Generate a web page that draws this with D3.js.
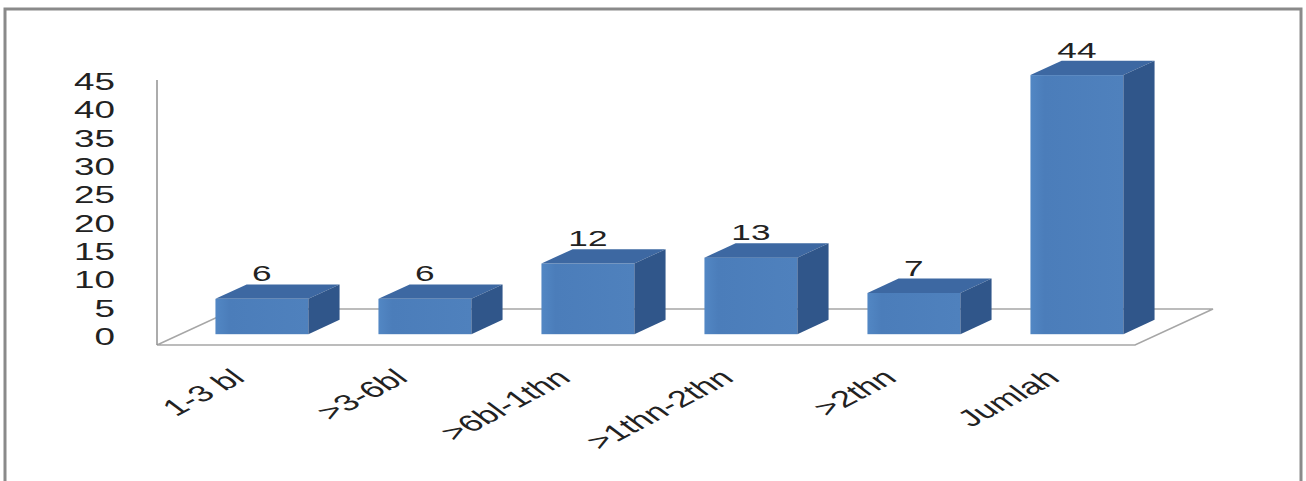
<!DOCTYPE html>
<html>
<head>
<meta charset="utf-8">
<script src="https://cdn.jsdelivr.net/npm/d3@7"></script>
<style>
  body { margin: 0; background: #fff; }
  text { font-family: "Liberation Sans", Arial, sans-serif; fill: #222; }
</style>
</head>
<body>
<svg id="chart" width="1306" height="481"></svg>
<script>
// data
var categories = ["1-3 bl", ">3-6bl", ">6bl-1thn", ">1thn-2thn", ">2thn", "Jumlah"];
var values = [6, 6, 12, 13, 7, 44];
var yTicks = [0, 5, 10, 15, 20, 25, 30, 35, 40, 45];

var svg = d3.select("#chart");
var sx = 1.6; // picture is stretched sideways

// frame
svg.append("rect")
    .attr("x", 5).attr("y", 9)
    .attr("width", 1296).attr("height", 490)
    .attr("fill", "#fff")
    .attr("stroke", "#8a8a8a")
    .attr("stroke-width", 3);

var left = 157, right = 1135, base = 345;
var depth = [78, -36]; // floor depth offset

var x = d3.scaleBand()
    .domain(categories)
    .range([left, right])
    .paddingInner(0.43)
    .paddingOuter(0.215);

var y = d3.scaleLinear()
    .domain([0, 45])
    .range([base, 80]);

// floor outline
var floor = [
  [left, base], [right, base],
  [right + depth[0], base + depth[1]], [left + depth[0], base + depth[1]]
];
svg.append("polygon")
    .attr("points", floor.map(function(p) { return p.join(","); }).join(" "))
    .attr("fill", "#fff")
    .attr("stroke", "#a6a6a6")
    .attr("stroke-width", 1.5);

// vertical axis line
svg.append("line")
    .attr("x1", left).attr("x2", left)
    .attr("y1", y(45)).attr("y2", y(0))
    .attr("stroke", "#909090")
    .attr("stroke-width", 1.5);

// axis labels
var yLab = d3.scaleLinear().domain([0, 45]).range([337, 82]);
var yAxis = svg.append("g")
    .attr("transform", "translate(115,0)")
    .call(d3.axisLeft(yLab).tickValues(yTicks).tickSize(0).tickPadding(0));
yAxis.select(".domain").remove();
yAxis.selectAll("text")
    .attr("x", 0)
    .attr("transform", "scale(" + sx + ",1)")
    .style("font-family", "'Liberation Sans', Arial, sans-serif")
    .style("font-size", "23px")
    .style("fill", "#222");

// bars
var f0 = 0.3, f1 = 0.7;
var fx = depth[0] * f0, fy = depth[1] * f0;
var dx = depth[0] * (f1 - f0), dy = depth[1] * (f1 - f0);

var bars = svg.selectAll(".bar")
    .data(values)
    .enter().append("g")
    .attr("class", "bar");

function xl(d, i) { return x(categories[i]) + fx; }
function xr(d, i) { return x(categories[i]) + fx + x.bandwidth(); }
function yt(d) { return y(d) + fy; }
function yb() { return y(0) + fy; }

var grad = svg.append("defs").append("linearGradient")
    .attr("id", "front").attr("x1", "0").attr("x2", "1");
grad.append("stop").attr("offset", "0").attr("stop-color", "#5287c4");
grad.append("stop").attr("offset", "0.15").attr("stop-color", "#4b7dba");
grad.append("stop").attr("offset", "1").attr("stop-color", "#4f81bd");

bars.append("rect")
    .attr("x", xl)
    .attr("y", yt)
    .attr("width", x.bandwidth())
    .attr("height", function(d) { return yb() - yt(d); })
    .attr("fill", "url(#front)");

bars.append("polygon")
    .attr("points", function(d, i) {
      var a = xl(d, i), b = xr(d, i), t = yt(d);
      return [[a, t], [b, t], [b + dx, t + dy], [a + dx, t + dy]].join(" ");
    })
    .attr("fill", "#3d68a2");

bars.append("polygon")
    .attr("points", function(d, i) {
      var b = xr(d, i), t = yt(d), bt = yb();
      return [[b, t], [b + dx, t + dy], [b + dx, bt + dy], [b, bt]].join(" ");
    })
    .attr("fill", "#30568a");

// value labels
bars.append("text")
    .attr("transform", function(d, i) {
      return "translate(" + ((xl(d, i) + xr(d, i)) / 2) + "," + (yt(d) + dy - 3) + ") scale(" + sx + ",1)";
    })
    .attr("text-anchor", "middle")
    .style("font-size", "22px")
    .text(function(d) { return d; });

// category labels
svg.selectAll(".cat")
    .data(categories)
    .enter().append("text")
    .attr("class", "cat")
    .attr("transform", function(d) {
      return "translate(" + (x(d) + x.bandwidth() / 2 + 8) + ",380) scale(" + sx + ",1) rotate(-40)";
    })
    .attr("text-anchor", "end")
    .style("font-size", "23px")
    .text(function(d) { return d; });
</script>
</body>
</html>
